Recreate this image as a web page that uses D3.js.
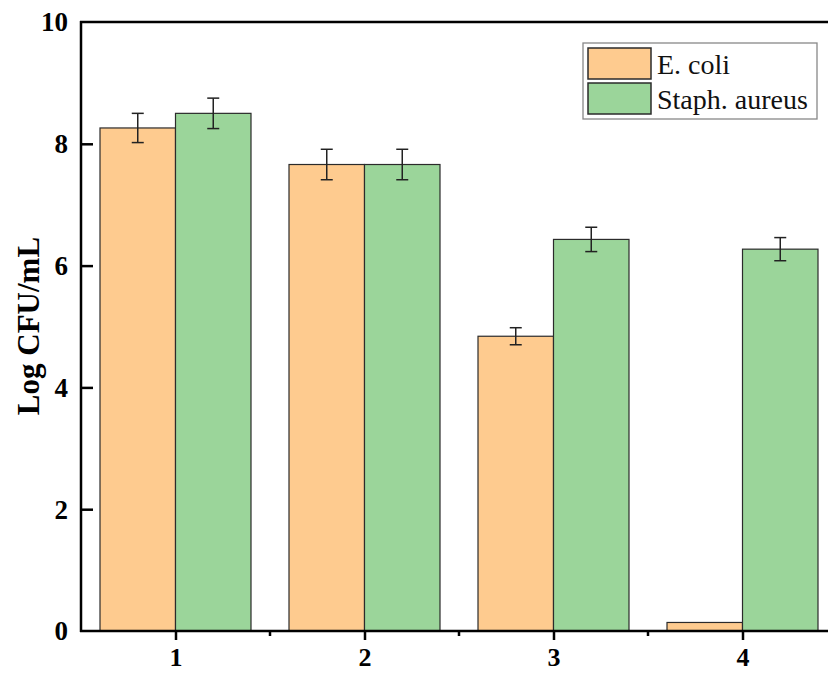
<!DOCTYPE html>
<html>
<head>
<meta charset="utf-8">
<script src="https://cdn.jsdelivr.net/npm/d3@7"></script>
<style>
  body { margin: 0; background: #fff; }
  svg text { font-family: "Liberation Serif", "Times New Roman", serif; }
</style>
</head>
<body>
<div class="chart"></div>
<script>
var groups = [1, 2, 3, 4];
var seriesNames = ['E. coli', 'Staph. aureus'];
var seriesColors = ['#fecb8f', '#9bd59a'];
var ecoli = [8.26, 7.66, 4.84, 0.14];
var ecoliErr = [0.24, 0.25, 0.14, 0];
var staph = [8.50, 7.66, 6.43, 6.27];
var staphErr = [0.25, 0.25, 0.20, 0.19];
var yTicks = [0, 2, 4, 6, 8, 10];

var margin = {top: 22, left: 81, bottom: 42},
    W = 828, H = 673,
    height = H - margin.top - margin.bottom;

var x = d3.scaleLinear().domain([0.5, 4.5]).range([0, 756]);
var y = d3.scaleLinear().domain([0, 10]).range([height, 0]);
var bw = 75.5;

var svg = d3.select('.chart').append('svg')
    .attr('width', W).attr('height', H)
    .append('g')
    .attr('transform', 'translate(' + margin.left + ',' + margin.top + ')');

var series = [
  {name: seriesNames[0], vals: ecoli, errs: ecoliErr, off: -bw, color: seriesColors[0]},
  {name: seriesNames[1], vals: staph, errs: staphErr, off: 0, color: seriesColors[1]}
];

// bars
series.forEach(function(s) {
  var g = svg.append('g');
  g.selectAll('rect').data(groups).enter().append('rect')
    .attr('x', function(d) { return x(d) + s.off; })
    .attr('y', function(d, i) { return y(s.vals[i]); })
    .attr('width', bw)
    .attr('height', function(d, i) { return height - y(s.vals[i]); })
    .attr('fill', s.color)
    .attr('stroke', '#2b2b2b')
    .attr('stroke-width', 1.2);

  // error bars
  groups.forEach(function(d, i) {
    if (!s.errs[i]) return;
    var cx = x(d) + s.off + bw / 2;
    var y1 = y(s.vals[i] + s.errs[i]), y2 = y(s.vals[i] - s.errs[i]);
    g.append('line').attr('x1', cx).attr('x2', cx).attr('y1', y1).attr('y2', y2)
      .attr('stroke', '#222').attr('stroke-width', 1.5);
    [y1, y2].forEach(function(yy) {
      g.append('line').attr('x1', cx - 6).attr('x2', cx + 6).attr('y1', yy).attr('y2', yy)
        .attr('stroke', '#222').attr('stroke-width', 1.5);
    });
  });
});

// y axis
var yAxis = d3.axisLeft(y).tickValues(yTicks).tickSize(-12).tickFormat(d3.format('d'));
var ya = svg.append('g').call(yAxis);
ya.select('.domain').remove();
ya.selectAll('.tick line').attr('stroke', '#000').attr('stroke-width', 2.5)
  .filter(function(d) { return d === 0 || d === 10; }).remove();
ya.selectAll('.tick text').attr('font-size', 27).attr('font-weight', 'bold').attr('fill', '#000')
  .attr('x', -13).attr('dy', '0.33em');

// x axis
var xAxis = d3.axisBottom(x).tickValues(groups).tickSize(9).tickPadding(8).tickFormat(d3.format('d'));
var xa = svg.append('g').attr('transform', 'translate(0,' + height + ')').call(xAxis);
xa.select('.domain').remove();
xa.selectAll('.tick line').attr('stroke', '#000').attr('stroke-width', 2.5);
xa.selectAll('.tick text').attr('font-size', 26).attr('font-weight', 'bold').attr('fill', '#000');
xa.selectAll('.minor').data([1.5, 2.5, 3.5]).enter().append('line')
  .attr('x1', function(d) { return x(d); }).attr('x2', function(d) { return x(d); })
  .attr('y1', 0).attr('y2', 5).attr('stroke', '#000').attr('stroke-width', 2.5);

// frame lines
svg.append('line').attr('x1', 0).attr('x2', 0).attr('y1', -1).attr('y2', height + 1)
  .attr('stroke', '#000').attr('stroke-width', 2.5);
svg.append('line').attr('x1', -1).attr('x2', 760).attr('y1', height).attr('y2', height)
  .attr('stroke', '#000').attr('stroke-width', 2.5);
svg.append('line').attr('x1', -1).attr('x2', 760).attr('y1', 0).attr('y2', 0)
  .attr('stroke', '#000').attr('stroke-width', 2.5);

// y title
svg.append('text')
  .attr('transform', 'translate(' + (-42) + ',' + (326 - margin.top) + ') rotate(-90)')
  .attr('text-anchor', 'middle')
  .attr('font-size', 31).attr('font-weight', 'bold')
  .text('Log CFU/mL');

// legend
var lg = svg.append('g').attr('transform', 'translate(' + (583 - margin.left) + ',' + (43 - margin.top) + ')');
lg.append('rect').attr('width', 234).attr('height', 76)
  .attr('fill', '#fff').attr('stroke', '#888').attr('stroke-width', 1.3);
series.forEach(function(s, i) {
  lg.append('rect').attr('x', 5).attr('y', 5 + i * 35).attr('width', 63).attr('height', 31)
    .attr('fill', s.color).attr('stroke', '#2b2b2b').attr('stroke-width', 1.5);
  lg.append('text').attr('x', 74).attr('y', 21 + i * 35).attr('dy', '0.35em')
    .attr('font-size', 28).attr('fill', '#111').text(s.name);
});
</script>
</body>
</html>
